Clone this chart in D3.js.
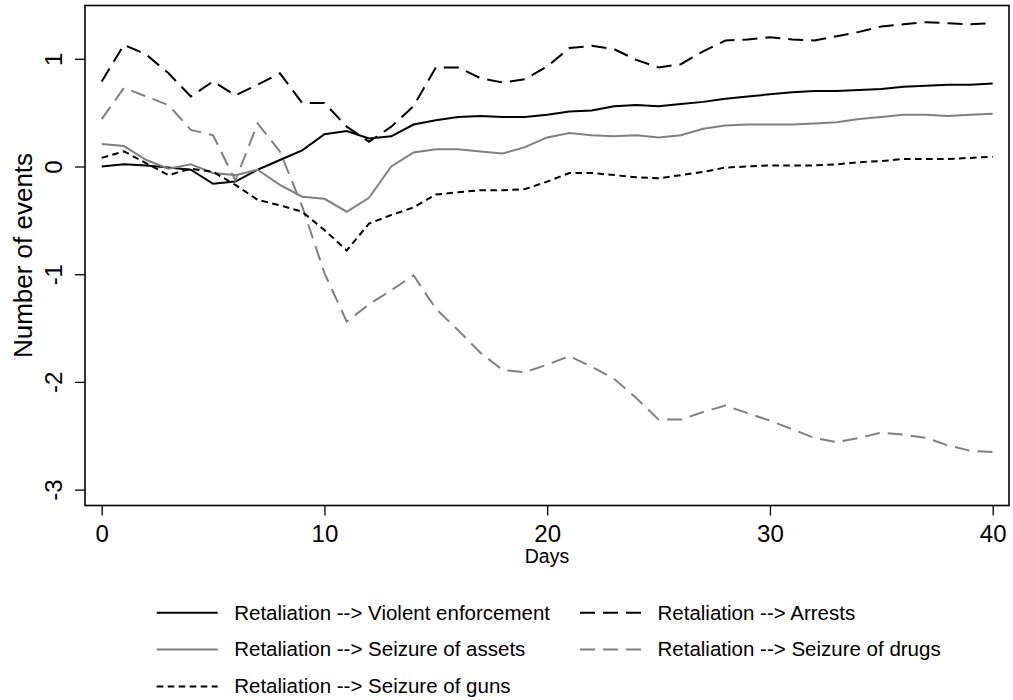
<!DOCTYPE html>
<html>
<head>
<meta charset="utf-8">
<script src="https://cdn.jsdelivr.net/npm/d3@7"></script>
<style>
  body { margin: 0; background: #fff; }
  text { font-family: "Liberation Sans", Arial, Helvetica, sans-serif; fill: #000; }
</style>
</head>
<body>
<div id="chart"></div>
<script>
// days since event
const days = [0,1,2,3,4,5,6,7,8,9,10,11,12,13,14,15,16,17,18,19,20,
              21,22,23,24,25,26,27,28,29,30,31,32,33,34,35,36,37,38,39,40];

const violent = [0.00,0.02,0.01,-0.01,-0.03,-0.16,-0.14,-0.03,0.06,0.15,0.30,0.33,0.26,0.28,0.39,0.43,0.46,0.47,0.46,0.46,0.48,
                 0.51,0.52,0.56,0.57,0.56,0.58,0.60,0.63,0.65,0.67,0.69,0.70,0.70,0.71,0.72,0.74,0.75,0.76,0.76,0.77];
const arrests = [0.79,1.13,1.04,0.865,0.65,0.79,0.66,0.76,0.865,0.59,0.59,0.37,0.23,0.37,0.56,0.92,0.92,0.82,0.78,0.81,0.93,
                 1.10,1.12,1.09,0.99,0.92,0.95,1.07,1.17,1.18,1.20,1.18,1.17,1.21,1.25,1.30,1.32,1.34,1.33,1.32,1.33];
const assets = [0.21,0.19,0.06,-0.02,0.02,-0.06,-0.08,-0.03,-0.17,-0.28,-0.30,-0.42,-0.29,0.00,0.13,0.16,0.16,0.14,0.12,0.18,0.27,
                0.31,0.29,0.28,0.29,0.27,0.29,0.35,0.38,0.39,0.39,0.39,0.40,0.41,0.44,0.46,0.48,0.48,0.47,0.48,0.49];
const drugs = [0.44,0.73,0.65,0.57,0.34,0.29,-0.13,0.40,0.14,-0.37,-0.99,-1.44,-1.28,-1.15,-1.01,-1.32,-1.52,-1.73,-1.89,-1.91,-1.84,
               -1.76,-1.86,-1.97,-2.15,-2.35,-2.35,-2.28,-2.22,-2.29,-2.36,-2.44,-2.52,-2.56,-2.52,-2.47,-2.49,-2.52,-2.59,-2.64,-2.65];
const guns = [0.08,0.14,0.03,-0.08,-0.02,-0.05,-0.17,-0.31,-0.36,-0.42,-0.59,-0.78,-0.53,-0.45,-0.38,-0.26,-0.24,-0.22,-0.22,-0.21,-0.14,
              -0.06,-0.06,-0.08,-0.10,-0.11,-0.08,-0.05,-0.01,0.00,0.01,0.01,0.01,0.02,0.04,0.05,0.07,0.07,0.07,0.08,0.09];

const xTicks = [0, 10, 20, 30, 40];
const yTicks = [-3, -2, -1, 0, 1];

const series = [
  { name: "Retaliation --> Violent enforcement", values: violent, color: "#000000", dash: null },
  { name: "Retaliation --> Arrests",             values: arrests, color: "#000000", dash: "15,8" },
  { name: "Retaliation --> Seizure of assets",   values: assets,  color: "#808080", dash: null },
  { name: "Retaliation --> Seizure of drugs",    values: drugs,   color: "#808080", dash: "15,8" },
  { name: "Retaliation --> Seizure of guns",     values: guns,    color: "#000000", dash: "6.6,4.4" }
];

const W = 1013, H = 700;
const box = { left: 85, top: 5.5, right: 1009, bottom: 505.5 };

const svg = d3.select("#chart").append("svg")
    .attr("width", W)
    .attr("height", H);

const x = d3.scaleLinear().domain([0, 40]).range([101.7, 992.7]);
const y = d3.scaleLinear().domain([-3, 1]).range([489.6, 58.8]);

// plain hyphen for negatives, as in the original
const plain = d => String(d);

// x axis
const gx = svg.append("g")
    .attr("transform", `translate(0,${box.bottom})`)
    .call(d3.axisBottom(x).tickValues(xTicks).tickSize(10).tickFormat(plain));
gx.select(".domain").remove();
gx.selectAll(".tick line").attr("stroke", "#000").attr("stroke-width", 1.3);
gx.selectAll(".tick text")
    .attr("y", 36).attr("dy", 0)
    .style("font-size", "24px");

// y axis, labels turned like the original
const gy = svg.append("g")
    .attr("transform", `translate(${box.left},0)`)
    .call(d3.axisLeft(y).tickValues(yTicks).tickSize(10).tickFormat(plain));
gy.select(".domain").remove();
gy.selectAll(".tick line").attr("stroke", "#000").attr("stroke-width", 1.3);
gy.selectAll(".tick text")
    .attr("x", 0).attr("dy", 0)
    .attr("text-anchor", "middle")
    .attr("transform", "translate(-23.3,0) rotate(-90)")
    .style("font-size", "24px");

// plot frame
svg.append("rect")
    .attr("x", box.left)
    .attr("y", box.top)
    .attr("width", box.right - box.left)
    .attr("height", box.bottom - box.top)
    .attr("fill", "none")
    .attr("stroke", "#000")
    .attr("stroke-width", 1.6);

// titles
svg.append("text")
    .attr("transform", "translate(32,255.5) rotate(-90)")
    .attr("text-anchor", "middle")
    .style("font-size", "26px")
    .text("Number of events");

svg.append("text")
    .attr("x", (box.left + box.right) / 2)
    .attr("y", 563.3)
    .attr("text-anchor", "middle")
    .style("font-size", "19.5px")
    .text("Days");

// lines
const line = d3.line()
    .x((d, i) => x(days[i]))
    .y(d => y(d));

svg.append("g")
  .selectAll("path")
  .data(series)
  .enter()
  .append("path")
    .attr("d", d => line(d.values))
    .attr("fill", "none")
    .attr("stroke", d => d.color)
    .attr("stroke-width", 2)
    .attr("stroke-dasharray", d => d.dash);

// legend, two columns
const colX = [156.7, 580];
const rowY = [612.7, 649.5, 686.5];

const leg = svg.append("g")
  .selectAll("g")
  .data(series)
  .enter()
  .append("g")
    .attr("transform", (d, i) => `translate(${colX[i % 2]},${rowY[Math.floor(i / 2)]})`);

leg.append("line")
    .attr("x1", 0).attr("x2", 61)
    .attr("y1", 0).attr("y2", 0)
    .attr("stroke", d => d.color)
    .attr("stroke-width", 2)
    .attr("stroke-dasharray", d => d.dash);

leg.append("text")
    .attr("x", 77.5)
    .attr("y", 6.8)
    .style("font-size", "20.5px")
    .text(d => d.name);
</script>
</body>
</html>
